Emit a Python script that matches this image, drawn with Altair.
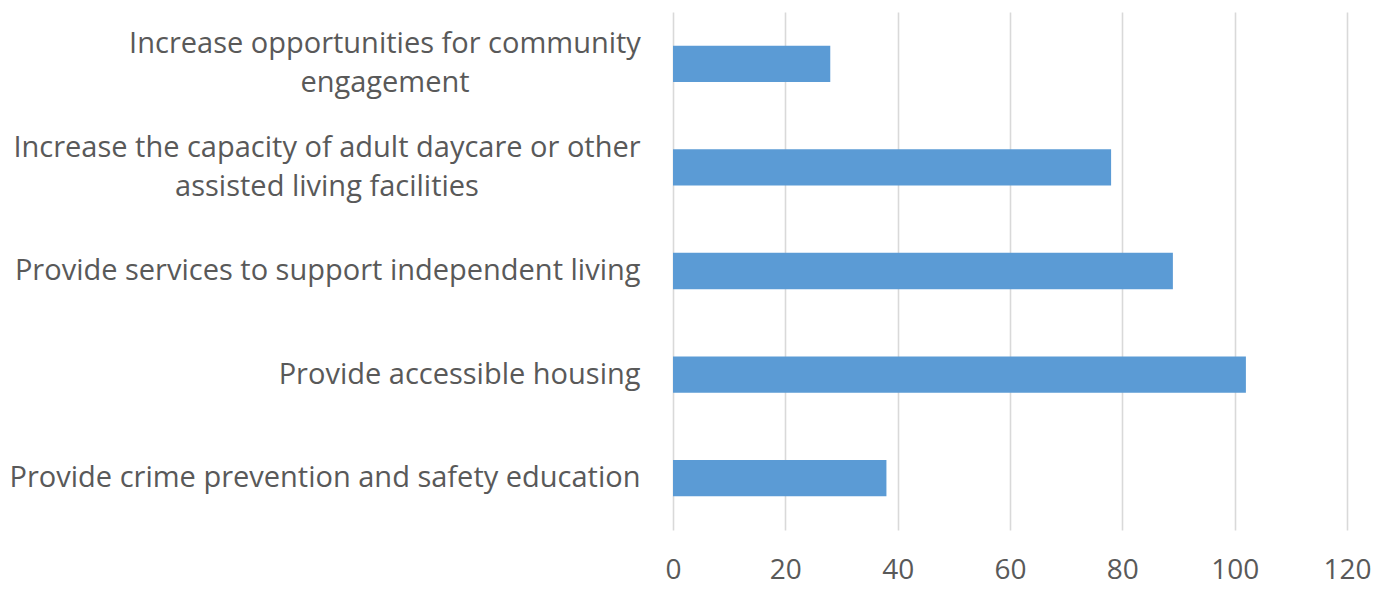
import altair as alt
import pandas as pd

categories = [
    "Increase opportunities for community engagement",
    "Increase the capacity of adult daycare or other assisted living facilities",
    "Provide services to support independent living",
    "Provide accessible housing",
    "Provide crime prevention and safety education",
]
values = [28, 78, 89, 102, 38]
wrapped_labels = {
    "Increase opportunities for community engagement": "Increase opportunities for community\nengagement",
    "Increase the capacity of adult daycare or other assisted living facilities": "Increase the capacity of adult daycare or other\nassisted living facilities",
}
x_ticks = [0, 20, 40, 60, 80, 100, 120]

FONT = "Open Sans"
FS = 29
TXT = "#595959"

df = pd.DataFrame({"category": categories, "value": values})
df["wrapped"] = df["category"].map(wrapped_labels).fillna("")

wrapped_list = "[" + ",".join("'" + k + "'" for k in wrapped_labels) + "]"

y_enc = alt.Y(
    "category:N",
    sort=categories,
    title=None,
    scale=alt.Scale(paddingInner=0.65, paddingOuter=0.325),
    axis=alt.Axis(
        domain=False,
        ticks=False,
        grid=False,
        labelFont=FONT,
        labelFontSize=FS,
        labelColor=TXT,
        labelPadding=33,
        labelLimit=800,
        labelExpr=f"indexof({wrapped_list}, datum.label) >= 0 ? '' : datum.label",
    ),
)

bars = alt.Chart(df).mark_bar(color="#5b9bd5").encode(
    x=alt.X(
        "value:Q",
        title=None,
        scale=alt.Scale(domain=[0, 120], nice=False),
        axis=alt.Axis(
            values=x_ticks,
            domain=False,
            ticks=False,
            grid=True,
            gridColor="#d9d9d9",
            gridWidth=1.6,
            labelFont=FONT,
            labelFontSize=28,
            labelColor=TXT,
            labelPadding=26,
            labelFlush=False,
        ),
    ),
    y=y_enc,
)

label_centers = {
    "Increase opportunities for community engagement": -288,
    "Increase the capacity of adult daycare or other assisted living facilities": -346,
}

layers = [bars]
for cat, cx in label_centers.items():
    layers.append(
        alt.Chart(df)
        .transform_filter(alt.datum.category == cat)
        .mark_text(
            font=FONT,
            fontSize=FS,
            color=TXT,
            align="center",
            baseline="middle",
            lineBreak="\n",
            lineHeight=39,
            dy=-19.5,
        )
        .encode(y=alt.Y("category:N", sort=categories), x=alt.value(cx), text="wrapped:N")
    )

chart = (
    alt.layer(*layers)
    .properties(
        width=674,
        height=518,
        padding={"left": 673, "top": 12, "right": 45, "bottom": 61},
        autosize="none",
    )
    .configure_view(stroke=None)
)

chart.save("out.html", embed_options={"renderer": "svg", "actions": False})
